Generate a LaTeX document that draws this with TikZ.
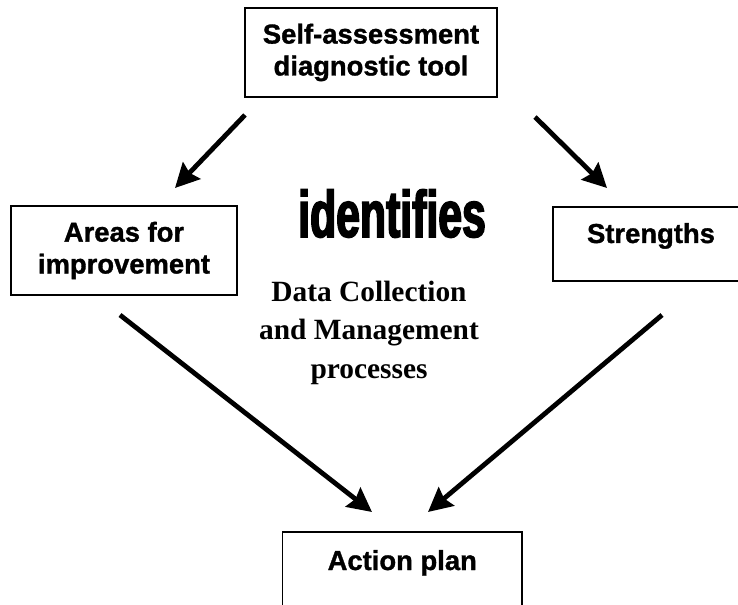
\documentclass[tikz,border=0pt]{standalone}
\usepackage{fontspec}
\setmainfont{Liberation Sans}[BoldFeatures={FakeBold=1.2}]
\newfontfamily\narrowfont{Liberation Sans}[FakeStretch=0.65, BoldFeatures={FakeBold=2.5}]
\newfontfamily\bookfont{Liberation Serif}
\usetikzlibrary{arrows.meta, positioning, calc}
\tikzset{
  block/.style={
    rectangle, draw, line width=1.3bp,
    align=center, inner sep=0pt, outer sep=0pt,
    font=\fontsize{27.5}{32}\selectfont\bfseries
  },
  line/.style={draw, line width=4.8bp, -{Stealth[length=24bp,width=24bp,inset=3bp]}},
}

\begin{document}
\begin{tikzpicture}[x=1bp, y=1bp]
  \useasboundingbox (0,0) rectangle (738,605);

  \node[block, minimum width=252bp, minimum height=89bp] (tool) at (371,552.5)
    {Self-assessment\\ diagnostic tool};

  \node[block, minimum width=226bp, minimum height=89bp, below left=109bp and 8bp of tool]
    (areas) {Areas for\\ improvement};
  \node[block, minimum width=196bp, text height=36bp, text depth=38bp, below right=110bp and 56bp of tool]
    (strengths) {Strengths};

  \node[block, minimum width=239.5bp, text height=38bp, text depth=50bp, below right=237bp and 45.5bp of areas]
    (plan) {Action plan};

  \node[font=\narrowfont\bfseries\fontsize{66}{70}\selectfont, inner sep=0pt, anchor=base]
    (identifies) at (392,368) {identifies};
  \node[font=\bookfont\bfseries\fontsize{29.5}{38.5}\selectfont, align=center, inner sep=0pt, anchor=north]
    (data) at (369,324) {Data Collection\\ and Management\\ processes};

  \draw[line] ($(tool.south west)+(0,-18)$) -- ($(areas.north)+(51,18)$);
  \draw[line] ($(tool.south east)+(38,-20)$) -- ($(strengths.north west)+(54,19)$);
  \draw[line] ($(areas.south)+(-4,-20)$) -- ($(plan.north west)+(89.5,20)$);
  \draw[line] ($(strengths.south)+(11,-34)$) -- ($(plan.north east)+(-94,20)$);
\end{tikzpicture}
\end{document}
